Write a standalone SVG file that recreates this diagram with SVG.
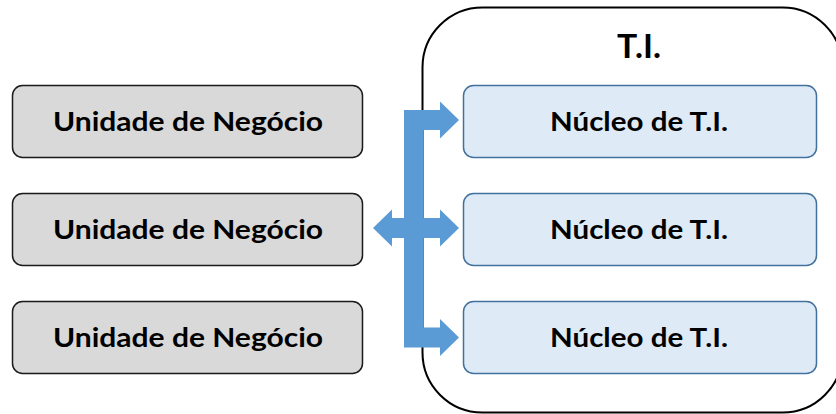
<svg xmlns="http://www.w3.org/2000/svg" width="836" height="414" viewBox="0 0 836 414">
<style>
.bu{fill:#d9d9d9;stroke:#1a1a1a;stroke-width:1.5}
.nu{fill:#deebf7;stroke:#41719c;stroke-width:1.5}
.t{font-family:Lato,"Open Sans","Liberation Sans",sans-serif;font-weight:bold;font-size:27px;fill:#000;text-anchor:middle}
.arr{fill:#5b9bd5}
</style>
<rect width="836" height="414" fill="#fff"/>
<g id="ti">
<rect x="422.5" y="7.5" width="420" height="405" rx="60" ry="60" fill="none" stroke="#000" stroke-width="2"/>
<text class="t" x="639" y="58" style="font-size:32px" textLength="44" lengthAdjust="spacingAndGlyphs">T.I.</text>
</g>
<g id="un1"><rect class="bu" x="12.5" y="85.5" width="350" height="72" rx="10"/><text class="t" x="188" y="131" textLength="270" lengthAdjust="spacingAndGlyphs">Unidade de Negócio</text></g>
<g id="un2"><rect class="bu" x="12.5" y="193.5" width="350" height="72" rx="10"/><text class="t" x="188" y="239" textLength="270" lengthAdjust="spacingAndGlyphs">Unidade de Negócio</text></g>
<g id="un3"><rect class="bu" x="12.5" y="301.5" width="350" height="72" rx="10"/><text class="t" x="188" y="347" textLength="270" lengthAdjust="spacingAndGlyphs">Unidade de Negócio</text></g>
<g id="nt1"><rect class="nu" x="463.5" y="85.5" width="353" height="72" rx="10"/><text class="t" x="639" y="131" textLength="178" lengthAdjust="spacingAndGlyphs">Núcleo de T.I.</text></g>
<g id="nt2"><rect class="nu" x="463.5" y="193.5" width="353" height="72" rx="10"/><text class="t" x="639" y="239" textLength="178" lengthAdjust="spacingAndGlyphs">Núcleo de T.I.</text></g>
<g id="nt3"><rect class="nu" x="463.5" y="301.5" width="353" height="72" rx="10"/><text class="t" x="639" y="347" textLength="178" lengthAdjust="spacingAndGlyphs">Núcleo de T.I.</text></g>
<g id="connectors">
<polygon class="arr" points="404,110 440,110 440,101.5 459,120 440,138.5 440,130 423,130 423,218 440,218 440,209.5 459,228 440,246.5 440,238 423,238 423,327.5 440,327.5 440,319 459,337.5 440,356 440,347.5 404,347.5 404,238 392,238 392,246.5 373,228 392,209.5 392,218 404,218"/>
</g>
</svg>
